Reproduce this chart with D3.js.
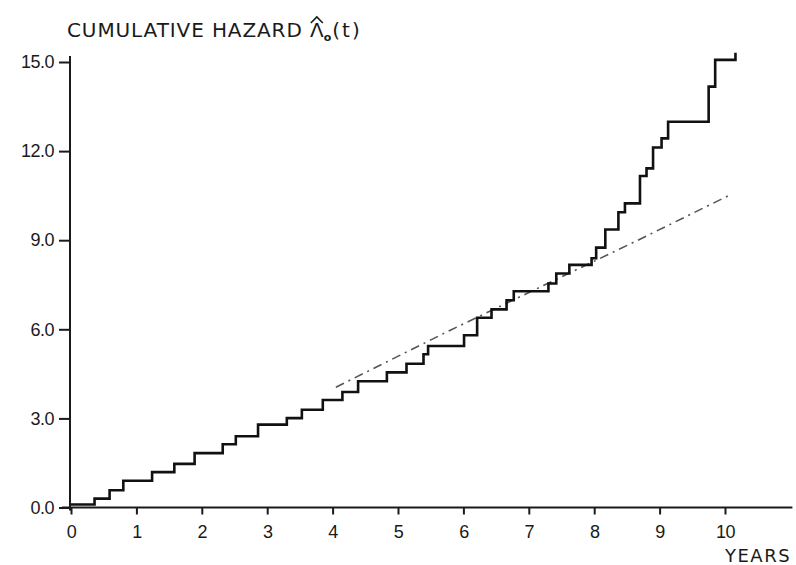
<!DOCTYPE html>
<html>
<head>
<meta charset="utf-8">
<script src="https://cdn.jsdelivr.net/npm/d3@7"></script>
<style>
  body { margin: 0; background: #fff; }
  svg { display: block; font-family: "DejaVu Sans", sans-serif; }
  .axis text { font-size: 18px; fill: #1a1a1a; letter-spacing: -0.5px; }
  .axis line { stroke: #1a1a1a; stroke-width: 2px; }
  .label { fill: #1a1a1a; }
</style>
</head>
<body>
<svg id="chart" width="796" height="565"></svg>
<script>
// step estimate: jump times (years) and cumulative hazard level after each jump
const jumpYears = [0, 0.36, 0.59, 0.80, 1.24, 1.58, 1.89, 2.32, 2.52, 2.86, 3.30, 3.53, 3.85, 4.15, 4.39,
  4.83, 5.13, 5.39, 5.46, 6.01, 6.21, 6.43, 6.66, 6.77, 7.30, 7.42, 7.62, 7.96, 8.03, 8.17,
  8.37, 8.47, 8.70, 8.80, 8.90, 9.03, 9.13, 9.75, 9.85, 10.16];
const hazardLevels = [0.10, 0.30, 0.58, 0.90, 1.19, 1.47, 1.83, 2.13, 2.40, 2.79, 3.01, 3.29, 3.62, 3.89, 4.25,
  4.55, 4.84, 5.16, 5.44, 5.80, 6.39, 6.67, 6.98, 7.28, 7.54, 7.88, 8.17, 8.39, 8.75, 9.36,
  9.94, 10.24, 11.16, 11.42, 12.12, 12.43, 12.99, 14.17, 15.07, 15.31];

// dashed fitted curve
const fitYears = [4.05, 5.8, 8.65, 10.1];
const fitHazard = [4.05, 5.97, 8.98, 10.55];

const xTicks = [0, 1, 2, 3, 4, 5, 6, 7, 8, 9, 10];
const yTicks = [0, 3, 6, 9, 12, 15];

const svg = d3.select("#chart");

const x = d3.scaleLinear().domain([0, 11]).range([71, 790.4]);
const y = d3.scaleLinear().domain([0, 15]).range([507.5, 62]);

// x axis
const gx = svg.append("g")
  .attr("class", "axis")
  .attr("transform", "translate(0," + y(0) + ")")
  .call(d3.axisBottom(x).tickValues(xTicks).tickSize(7).tickPadding(11).tickFormat(d3.format("d")));
gx.select(".domain").remove();
gx.append("line")
  .attr("x1", x.range()[0] - 9)
  .attr("x2", x.range()[1] + 2);

// y axis
const gy = svg.append("g")
  .attr("class", "axis")
  .attr("transform", "translate(" + (x(0) - 1) + ",0)")
  .call(d3.axisLeft(y).tickValues(yTicks).tickSize(11).tickPadding(5).tickFormat(d3.format(".1f")));
gy.select(".domain").remove();
gy.append("line")
  .attr("y1", y(0) + 3)
  .attr("y2", y(15) - 6);

// fitted curve (dash-dot)
svg.append("path")
  .datum(fitYears.map((d, i) => [d, fitHazard[i]]))
  .attr("fill", "none")
  .attr("stroke", "#555")
  .attr("stroke-width", 1.6)
  .attr("stroke-dasharray", "9,5,2,5")
  .attr("d", d3.line().x((d) => x(d[0])).y((d) => y(d[1])));

// Nelson-Aalen step function
svg.append("path")
  .datum(jumpYears.map((d, i) => [d, hazardLevels[i]]))
  .attr("fill", "none")
  .attr("stroke", "#111")
  .attr("stroke-width", 2.6)
  .attr("d", d3.line().curve(d3.curveStepAfter).x((d) => x(d[0])).y((d) => y(d[1])));

// title: lambda gets a drawn hat, subscript follows it
const head = "CUMULATIVE HAZARD ";
const title = svg.append("text")
  .attr("class", "label")
  .attr("x", 67)
  .attr("y", 37)
  .style("font-size", "20px");
title.append("tspan").style("letter-spacing", "0.9px").text(head);
title.append("tspan").text("\u039B");
title.append("tspan").attr("dy", 4).style("font-size", "11px").style("font-weight", "bold").text("o");
title.append("tspan").attr("dx", 1).attr("dy", -4).style("letter-spacing", "2px").text("(t)");

const lamBox = title.node().getExtentOfChar(head.length);
const hx = lamBox.x + lamBox.width / 2;
svg.append("path")
  .attr("fill", "none")
  .attr("stroke", "#1a1a1a")
  .attr("stroke-width", 1.6)
  .attr("d", "M" + (hx - 6) + "," + 23 + "L" + hx + "," + 17 + "L" + (hx + 6) + "," + 23);

svg.append("text")
  .attr("class", "label")
  .attr("x", 725)
  .attr("y", 562)
  .style("font-size", "18px")
  .style("letter-spacing", "1.5px")
  .text("YEARS");
</script>
</body>
</html>
